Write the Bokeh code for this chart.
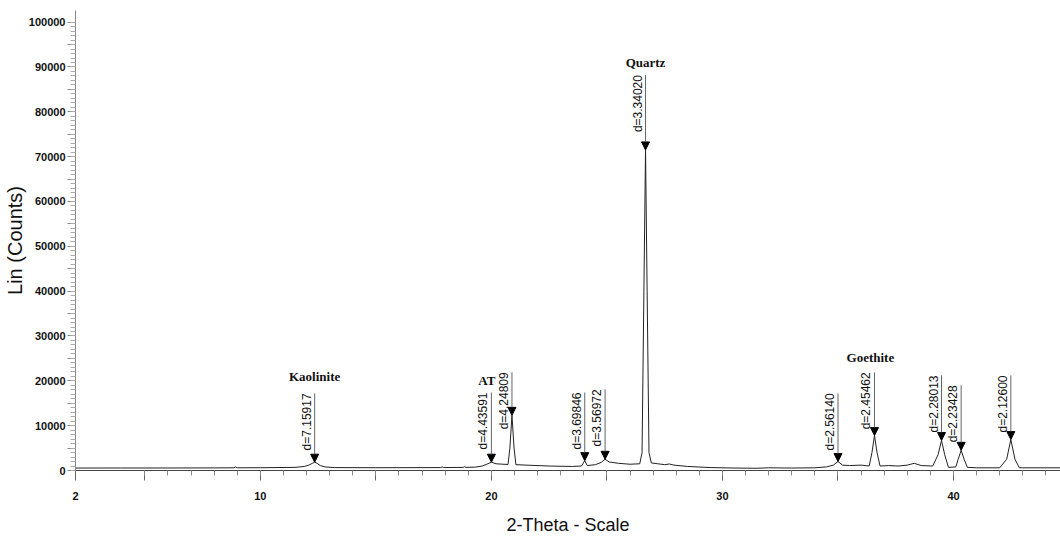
import numpy as np
from bokeh.plotting import figure
from bokeh.models import (ColumnDataSource, FixedTicker, CustomJSTickFormatter,
                          Arrow, NormalHead, Range1d)
from bokeh.core.properties import value
from bokeh.embed import file_html
from bokeh.resources import INLINE

# ---- XRD profile (2-theta, counts) ----
two_theta = [2.0, 4.0, 6.0, 8.0, 8.85, 8.93, 9.0, 10.0, 11.5, 11.9, 12.1, 12.25, 12.35,
             12.45, 12.6, 12.8, 13.2, 15.0, 17.8, 17.87, 17.94, 18.78, 18.84, 18.9,
             19.3, 19.6, 19.8, 20.0, 20.2, 20.5, 20.72, 20.8, 20.89, 20.98, 21.06,
             21.5, 22.5, 23.5, 23.9, 24.04, 24.15, 24.5, 24.75, 24.92, 25.1, 25.5,
             26.0, 26.42, 26.52, 26.6, 26.67, 26.74, 26.82, 26.92, 27.2, 27.5, 27.7,
             27.9, 28.5, 29.5, 30.5, 31.5, 32.0, 33.0, 34.0, 34.5, 34.8, 35.0, 35.2,
             35.5, 36.0, 36.35, 36.47, 36.58, 36.69, 36.82, 37.2, 37.6, 38.0, 38.3,
             38.6, 39.1, 39.33, 39.48, 39.62, 39.78, 40.1, 40.2, 40.33, 40.46, 40.6,
             41.0, 42.0, 42.3, 42.48, 42.66, 42.85, 44.63]
counts = [550, 560, 560, 580, 600, 800, 600, 620, 700, 900, 1200, 1600, 1850,
          1600, 1100, 800, 650, 620, 650, 800, 650, 700, 850, 700,
          750, 1000, 1400, 1850, 1500, 1400, 1350, 5000, 12300, 5000, 1300,
          1200, 1000, 900, 1000, 2200, 1100, 1300, 1800, 2500, 1900, 1600,
          1400, 1500, 4000, 40000, 71500, 40000, 4000, 1700, 1500, 1300, 1450,
          1200, 900, 650, 550, 500, 600, 550, 600, 800, 1200, 2000, 1200,
          1100, 1200, 1000, 4000, 7800, 4000, 1000, 1100, 1000, 1200, 1600,
          1100, 1000, 3500, 6700, 3500, 700, 800, 2500, 4500, 2500, 700,
          600, 600, 2500, 6900, 2500, 600, 600]

# ---- marked peaks ----
peak_theta = [12.35, 20.0, 20.89, 24.04, 24.92, 26.67, 35.0, 36.58, 39.48, 40.33, 42.48]
peak_counts = [1850, 1850, 12300, 2200, 2500, 71500, 2000, 7800, 6700, 4500, 6900]
peak_labels = ["d=7.15917", "d=4.43591", "d=4.24809", "d=3.69846", "d=3.56972",
               "d=3.34020", "d=2.56140", "d=2.45462", "d=2.28013", "d=2.23428",
               "d=2.12600"]
label_tops = [17200, 17400, 21900, 17400, 18100, 88200, 17200, 21900, 21200, 19000, 21200]

# ---- phase names ----
phase_names = ["Kaolinite", "AT", "Quartz", "Goethite"]
phase_theta = [12.35, 19.8, 26.67, 36.4]
phase_counts = [21000, 20100, 91000, 25200]

p = figure(width=1060, height=540, output_backend="svg", toolbar_location=None,
           x_range=Range1d(2, 44.63), y_range=Range1d(0, 102600),
           min_border_left=75, min_border_right=0, min_border_top=10,
           min_border_bottom=70)
p.background_fill_color = "white"
p.border_fill_color = "white"
p.outline_line_color = None
p.grid.visible = False

p.line(two_theta, counts, line_color="#222222", line_width=1)

src = ColumnDataSource(dict(x=peak_theta, peak=peak_counts, top=label_tops, lab=peak_labels))
p.add_layout(Arrow(end=NormalHead(size=8, fill_color="black", line_color="black", line_width=1),
                   line_color="#666666", line_width=1,
                   x_start="x", y_start="top", x_end="x", y_end="peak", source=src))
p.text(x="x", y="top", text="lab", source=src, angle=np.pi / 2,
       text_align="right", text_baseline="bottom", x_offset=-1,
       text_font=value("Liberation Sans"), text_font_size="12px", text_color="#111111")

psrc = ColumnDataSource(dict(x=phase_theta, y=phase_counts, t=phase_names))
p.text(x="x", y="y", text="t", source=psrc, text_align="center", text_baseline="middle",
       text_font=value("Liberation Serif"), text_font_style="bold",
       text_font_size="13px", text_color="#111111")

# ---- axes ----
xa = p.xaxis[0]
xa.ticker = FixedTicker(ticks=[2] + list(range(5, 45, 5)),
                        minor_ticks=[t for t in range(5, 45)])
xa.formatter = CustomJSTickFormatter(code="return (tick == 2 || tick % 10 == 0) ? tick.toString() : '';")
xa.axis_line_color = "#444444"
xa.major_tick_line_color = "#666666"
xa.minor_tick_line_color = "#888888"
xa.major_tick_out = 10
xa.major_tick_in = 0
xa.minor_tick_out = 5
xa.minor_tick_in = 0
xa.major_label_standoff = 11
xa.major_label_text_font = "Liberation Sans"
xa.major_label_text_font_style = "bold"
xa.major_label_text_font_size = "11px"
xa.major_label_text_color = "#111111"
xa.axis_label = "2-Theta - Scale"
xa.axis_label_text_font = "Liberation Sans"
xa.axis_label_text_font_style = "normal"
xa.axis_label_text_font_size = "18px"
xa.axis_label_text_color = "#111111"
xa.axis_label_standoff = 12

ya = p.yaxis[0]
ya.ticker = FixedTicker(ticks=list(range(0, 100001, 5000)),
                        minor_ticks=list(range(0, 100001, 1000)))
ya.formatter = CustomJSTickFormatter(code="return (tick % 10000 == 0) ? tick.toString() : '';")
ya.axis_line_color = "#888888"
ya.major_tick_line_color = "#888888"
ya.minor_tick_line_color = "#aaaaaa"
ya.major_tick_out = 8
ya.major_tick_in = 0
ya.minor_tick_out = 5
ya.minor_tick_in = 0
ya.major_label_standoff = 2
ya.major_label_text_font = "Liberation Sans"
ya.major_label_text_font_style = "bold"
ya.major_label_text_font_size = "11px"
ya.major_label_text_color = "#111111"
ya.axis_label = "Lin (Counts)"
ya.axis_label_text_font = "Liberation Sans"
ya.axis_label_text_font_style = "normal"
ya.axis_label_text_font_size = "20px"
ya.axis_label_text_color = "#111111"
ya.axis_label_standoff = 0

open("out.html", "w").write(file_html(p, INLINE))
